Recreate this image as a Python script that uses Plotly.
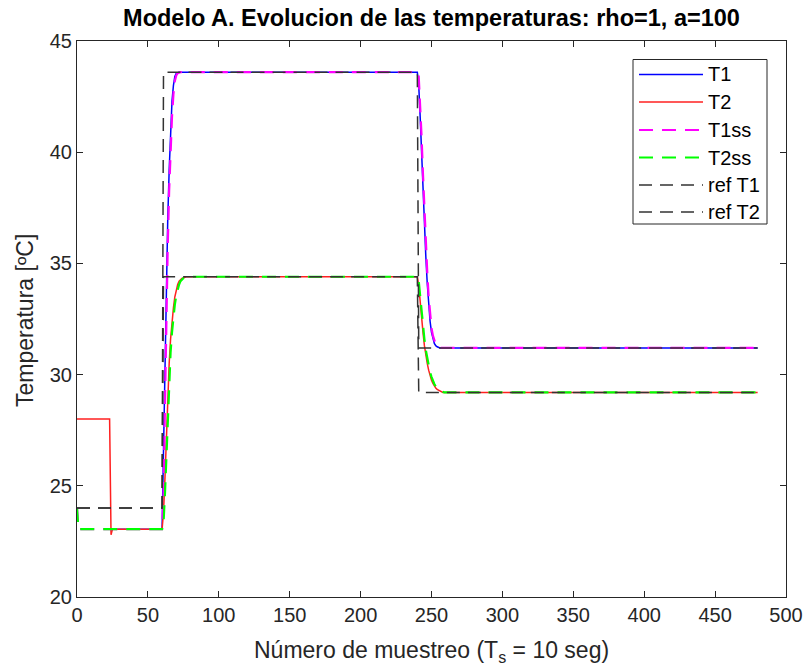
import plotly.graph_objects as go

# ---------------- data ----------------
T1_k = [24, 25, 60, 61, 62, 63, 64, 65, 66, 67, 68, 69, 70, 72,
        240, 241, 242, 243, 244, 245, 246, 247, 248, 249, 250, 251, 252, 253, 254, 256, 480]
T1_v = [22.95, 23.05, 23.05, 26.5, 30.5, 34.5, 37.0, 39.2, 41.0, 42.3, 43.0, 43.4, 43.55, 43.6,
        43.6, 43.0, 41.6, 39.9, 38.2, 36.7, 35.3, 34.1, 33.1, 32.4, 31.9, 31.6, 31.4, 31.3, 31.25, 31.2, 31.2]

T2_k = [0, 23, 24, 25, 60, 61, 62, 63, 64, 65, 66, 67, 68, 69, 70, 71, 72, 74, 77,
        240, 241, 242, 243, 244, 245, 246, 247, 248, 249, 250, 251, 252, 253, 254, 256, 258, 480]
T2_v = [28, 28, 22.8, 23.05, 23.05, 23.8, 25.3, 27.2, 29.0, 30.5, 31.6, 32.4, 33.0, 33.5, 33.85, 34.05, 34.2, 34.33, 34.4,
        34.4, 34.0, 33.2, 32.5, 31.9, 31.3, 30.85, 30.5, 30.2, 29.95, 29.75, 29.6, 29.48, 29.4, 29.33, 29.25, 29.2, 29.2]

T1ss_k = [0, 1, 60, 61, 62, 63, 64, 65, 66, 67, 68, 69, 70, 71, 73,
          240, 241, 242, 243, 244, 245, 246, 247, 248, 249, 250, 251, 252, 253, 254, 255, 257, 480]
T1ss_v = [24, 23.05, 23.05, 24.5, 28.5, 32.5, 35.8, 38.3, 40.2, 41.6, 42.6, 43.2, 43.45, 43.55, 43.6,
          43.6, 43.4, 42.3, 40.7, 39.0, 37.4, 35.9, 34.6, 33.5, 32.7, 32.1, 31.75, 31.5, 31.35, 31.28, 31.23, 31.2, 31.2]

T2ss_k = [0, 1, 60, 61, 62, 63, 64, 65, 66, 67, 68, 69, 70, 71, 72, 73, 75, 78,
          240, 241, 242, 243, 244, 245, 246, 247, 248, 249, 250, 251, 252, 253, 254, 255, 257, 259, 480]
T2ss_v = [24, 23.05, 23.05, 23.3, 24.6, 26.4, 28.2, 29.8, 31.0, 31.9, 32.6, 33.15, 33.55, 33.85, 34.05, 34.2, 34.33, 34.4,
          34.4, 34.2, 33.5, 32.8, 32.2, 31.6, 31.1, 30.7, 30.4, 30.1, 29.9, 29.72, 29.58, 29.47, 29.39, 29.33, 29.25, 29.2, 29.2]

ref_k = [0, 60, 61, 240, 241, 480]
refT1_v = [24, 24, 43.6, 43.6, 31.2, 31.2]
refT2_v = [24, 24, 34.4, 34.4, 29.2, 29.2]

legend_names = ["T1", "T2", "T1ss", "T2ss", "ref T1", "ref T2"]
x_ticks = [0, 50, 100, 150, 200, 250, 300, 350, 400, 450, 500]
y_ticks = [20, 25, 30, 35, 40, 45]

title_text = "Modelo A. Evolucion de las temperaturas: rho=1, a=100"
xlabel_text = "Número de muestreo (T<sub>s</sub> = 10 seg)"
ylabel_text = "Temperatura [ºC]"

# ---------------- styling ----------------
FONT = "Liberation Sans, Arial, sans-serif"
W, H = 806, 669
L, R, T, B = 77, 20, 41, 72
PW, PH = W - L - R, H - T - B

styles = [
    dict(color="#0000ff", width=1.5, dash="solid"),
    dict(color="#ff2020", width=1.5, dash="solid"),
    dict(color="#ff00ff", width=2.2, dash="14px,9px"),
    dict(color="#00ff00", width=2.2, dash="14px,9px"),
    dict(color="#333333", width=1.5, dash="13px,8px"),
    dict(color="#333333", width=1.5, dash="13px,8px"),
]
series = [(T1_k, T1_v), (T2_k, T2_v), (T1ss_k, T1ss_v), (T2ss_k, T2ss_v),
          (ref_k, refT1_v), (ref_k, refT2_v)]

fig = go.Figure()
for (k, v), name, st in zip(series, legend_names, styles):
    fig.add_trace(go.Scatter(x=k, y=v, mode="lines", name=name, line=st,
                             showlegend=False))


def px_x(px):
    return (px - L) / PW


def px_y(py):
    return (H - B - py) / PH


shapes = []
annotations = []
# legend box
shapes.append(dict(type="rect", xref="paper", yref="paper",
                   x0=px_x(633), x1=px_x(767), y0=px_y(224), y1=px_y(59.5),
                   line=dict(color="#262626", width=1), fillcolor="white", layer="above"))
rows = [74.5, 102, 130, 157.5, 185, 212]
for name, st, ry in zip(legend_names, styles, rows):
    shapes.append(dict(type="line", xref="paper", yref="paper",
                       x0=px_x(639), x1=px_x(703), y0=px_y(ry), y1=px_y(ry),
                       line=st, layer="above"))
    annotations.append(dict(text=name, xref="paper", yref="paper",
                            x=px_x(706), y=px_y(ry), xanchor="left", yanchor="middle",
                            showarrow=False, font=dict(family=FONT, size=20, color="#000")))

annotations.append(dict(text=ylabel_text, xref="paper", yref="paper",
                        x=px_x(25), y=px_y(321), textangle=-90,
                        xanchor="center", yanchor="middle", showarrow=False,
                        font=dict(family=FONT, size=23, color="#262626")))
annotations.append(dict(text=xlabel_text, xref="paper", yref="paper",
                        x=0.5, y=px_y(651), xanchor="center", yanchor="middle",
                        showarrow=False, font=dict(family=FONT, size=23, color="#262626")))

axis_common = dict(showline=True, linecolor="#262626", linewidth=1, mirror="ticks",
                   ticks="inside", ticklen=6, tickcolor="#262626", showgrid=False,
                   zeroline=False, tickfont=dict(family=FONT, size=20, color="#262626"))

fig.update_layout(
    width=W, height=H,
    margin=dict(l=L, r=R, t=T, b=B, autoexpand=False),
    paper_bgcolor="white", plot_bgcolor="white",
    title=dict(text="<b>" + title_text + "</b>", x=0.5, xref="paper", xanchor="center",
               y=1 - 18 / H, yref="container", yanchor="middle",
               font=dict(family=FONT, size=23.5, color="#000")),
    xaxis=dict(range=[0, 500], tickvals=x_ticks, **axis_common),
    yaxis=dict(range=[20, 45], tickvals=y_ticks, **axis_common),
    shapes=shapes, annotations=annotations,
)

fig.write_html("out.html")
